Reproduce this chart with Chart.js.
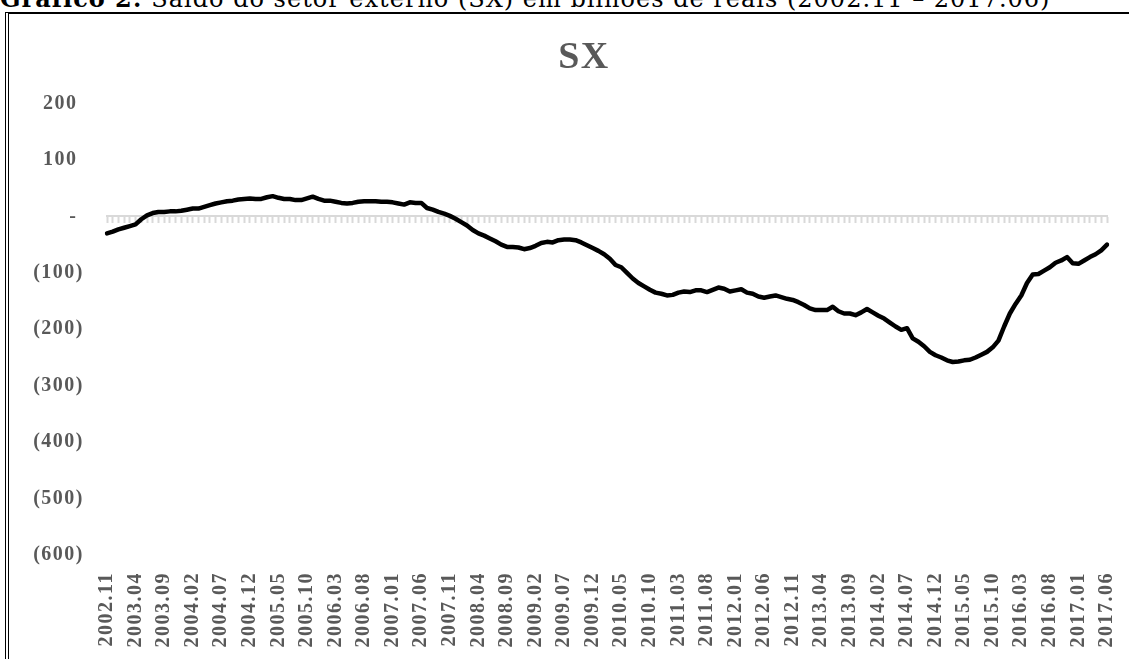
<!DOCTYPE html>
<html>
<head>
<meta charset="utf-8">
<script src="https://cdn.jsdelivr.net/npm/chart.js@4"></script>
<style>
  html, body { margin: 0; padding: 0; background: #fff; overflow: hidden; }
  #caption {
    position: absolute; left: 0; top: -13px;
    font: 24px 'DejaVu Serif', serif; line-height: 24px; letter-spacing: 1px;
    white-space: nowrap; color: #000;
  }
  #frame {
    position: absolute; left: 5px; top: 12px; width: 1200px; height: 700px;
    border-left: 4px double #000; border-top: 2px solid #000;
  }
  #wrap { position: absolute; left: 0; top: 0; width: 1148px; height: 659px; }
</style>
</head>
<body>
<div id="caption"><b>Gráfico 2:</b> Saldo do setor externo (SX) em bilhões de reais (2002.11 – 2017.06)</div>
<div id="frame"></div>
<div id="wrap"><canvas id="myChart" width="1148" height="659"></canvas></div>
<script>
// SX, bilhões de reais, mensal 2002.11 - 2017.06
const firstYear = 2002;
const firstMonth = 11;
const sxValues = [
  -30, -27, -23, -20, -17, -14, -5, 2, 6, 8,
  8, 9, 9, 10, 12, 14, 14, 17, 20, 23,
  25, 27, 28, 30, 31, 32, 31, 31, 34, 36,
  33, 31, 31, 29, 29, 32, 35, 31, 28, 28,
  26, 24, 23, 24, 26, 27, 27, 27, 26, 26,
  25, 23, 21, 25, 24, 24, 15, 12, 8, 5,
  1, -4, -10, -16, -24, -30, -34, -39, -44, -50,
  -54, -54, -55, -58, -56, -52, -47, -45, -46, -42,
  -41, -41, -42, -46, -51, -56, -61, -67, -75, -86,
  -90, -100, -110, -118, -124, -130, -135, -137, -140, -139,
  -135, -133, -134, -131, -131, -134, -130, -126, -128, -133,
  -131, -129, -135, -137, -142, -144, -142, -140, -143, -146,
  -148, -152, -157, -163, -166, -166, -166, -160, -168, -172,
  -172, -175, -170, -164, -170, -176, -181, -188, -195, -201,
  -198, -216, -222, -230, -240, -246, -250, -255, -258, -257,
  -255, -254, -250, -245, -240, -232, -220, -195, -172, -155,
  -140, -118, -103, -102, -96, -90, -82, -78, -72, -83,
  -84, -78, -72, -67, -60, -50
];
const yTicks = [200, 100, 0, -100, -200, -300, -400, -500, -600];
const labelEvery = 5;

const months = [];
for (let i = 0; i < sxValues.length; i++) {
  const m = firstMonth - 1 + i;
  const y = firstYear + Math.floor(m / 12);
  months.push(y + '.' + String(m % 12 + 1).padStart(2, '0'));
}

const grey = '#595959';
const spacing = {
  id: 'spacing',
  beforeUpdate(chart) { chart.ctx.letterSpacing = '1.5px'; },
  beforeDraw(chart) { chart.ctx.letterSpacing = '1.5px'; }
};

function fmt(v) {
  if (v === 0) return '- ';
  if (v < 0) return '(' + Math.abs(v) + ')';
  return v + ' ';
}

new Chart(document.getElementById('myChart'), {
  type: 'line',
  data: {
    labels: months,
    datasets: [{
      label: 'SX',
      data: sxValues,
      borderColor: '#000',
      borderWidth: 4.5,
      borderJoinStyle: 'round',
      borderCapStyle: 'round',
      pointRadius: 0,
      tension: 0,
      fill: false
    }]
  },
  options: {
    responsive: false,
    animation: false,
    layout: { padding: { left: 20, right: 0, top: 35, bottom: 0 } },
    plugins: {
      legend: { display: false },
      tooltip: { enabled: false },
      title: {
        display: true,
        text: 'SX',
        color: grey,
        font: { family: 'Liberation Serif', size: 38, weight: 'bold' },
        padding: { top: 0, bottom: 23 }
      }
    },
    scales: {
      x: {
        type: 'category',
        grid: { display: false, drawTicks: false },
        border: { display: false },
        ticks: {
          autoSkip: false,
          minRotation: 90,
          maxRotation: 90,
          padding: 17,
          color: grey,
          font: { family: 'Liberation Serif', size: 20, weight: 'bold' },
          callback: (v, i) => i % labelEvery === 0 ? months[i] : ''
        },
        afterFit: s => { s.height = 104; }
      },
      x2: {
        type: 'category',
        position: { y: 0 },
        grid: { drawOnChartArea: false, drawTicks: true, tickLength: 6, tickColor: '#d9d9d9', tickWidth: 2 },
        border: { color: '#d9d9d9', width: 2 },
        ticks: { display: false, autoSkip: false }
      },
      y: {
        min: -600,
        max: 200,
        afterBuildTicks: s => { s.ticks = yTicks.map(v => ({ value: v })); },
        grid: { display: false, drawTicks: false },
        border: { display: false },
        ticks: {
          padding: 23,
          color: grey,
          font: { family: 'Liberation Serif', size: 20, weight: 'bold' },
          callback: v => fmt(v)
        },
        afterFit: s => { s.width = 87; }
      },
      yRight: {
        position: 'right',
        min: -600,
        max: 200,
        grid: { display: false, drawTicks: false },
        border: { display: false },
        ticks: { display: false },
        afterFit: s => { s.width = 40; }
      }
    }
  },
  plugins: [spacing]
});
</script>
</body>
</html>
